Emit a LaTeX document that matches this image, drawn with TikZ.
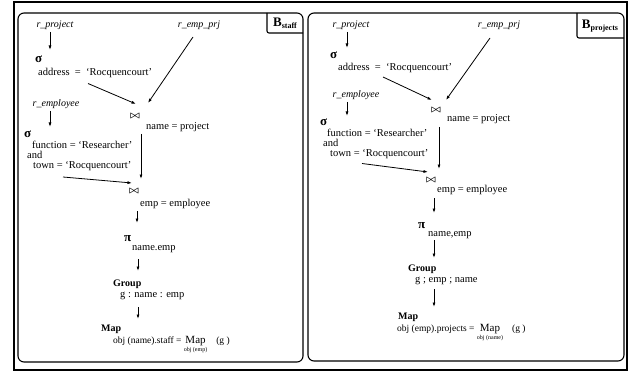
\documentclass[tikz,border=0pt]{standalone}
\usepackage{fontspec}
\setmainfont{Liberation Serif}
\usetikzlibrary{arrows.meta,calc}
\begin{document}
\begin{tikzpicture}[x=1pt,y=-1pt,
  txt/.style={inner sep=0pt, anchor=base west, font=\fontsize{10.5}{12}\selectfont},
  rel/.style={inner sep=0pt, anchor=center, font=\fontsize{10}{12}\selectfont\itshape},
  sym/.style={inner sep=0pt, anchor=base west, font=\fontsize{13}{14}\selectfont\bfseries},
  kw/.style={inner sep=0pt, anchor=base west, font=\fontsize{10}{12}\selectfont\bfseries},
  bowtienode/.style={inner sep=0pt, anchor=center, font=\boldmath},
  arr/.style={-{Latex[length=4.5pt,width=3pt]}, line width=0.8pt},
  frame/.style={line width=1.2pt},
  panel/.style={line width=1.1pt, rounded corners=6pt},
  tabline/.style={line width=1.1pt, rounded corners=2pt},
  tablabel/.style={inner sep=0pt, anchor=center, font=\bfseries}
]
\useasboundingbox (0,0) rectangle (629,377);

% outer frame and the two panels
\draw[frame] (14,2) rectangle (627,370);
\draw[panel] (18,13) rectangle (303,362);
\draw[panel] (308,13) rectangle (624,361);
\draw[tabline] (267,13) -- (267,33) -- (303,33);
\draw[tabline] (577,13) -- (577,38) -- (624,38);
\node[tablabel] (bstaff) at (285,23) {\fontsize{13}{14}\selectfont B\raisebox{-2pt}{\fontsize{8}{9}\selectfont staff}};
\node[tablabel] (bproj) at (600,26) {\fontsize{13}{14}\selectfont B\raisebox{-2pt}{\fontsize{8}{9}\selectfont projects}};

% ---------------- B_staff ----------------
\node[rel] (lrp) at (55,25) {r\_project};
\node[rel] (lrep) at (199,25) {r\_emp\_prj};
\node[sym] (lsig1) at (35,62.5) {σ};
\node[txt] (laddr) at (38,75.5) {address\ \ =\ \ `Rocquencourt'};
\node[bowtienode] (lj1) at (135,116) {$\bowtie$};
\node[txt] (lj1c) at (146,130) {name = project};
\node[rel] (lre) at (56,104) {r\_employee};
\node[sym] (lsig2) at (24,137.5) {σ};
\node[txt] (lf) at (32,148.5) {function = `Researcher'};
\node[txt] (land) at (27,158.5) {and};
\node[txt] (ltown) at (33,168.5) {town = `Rocquencourt'};
\node[bowtienode] (lj2) at (134,191) {$\bowtie$};
\node[txt] (lj2c) at (140,206.5) {emp = employee};
\node[sym] (lpi) at (124,241.5) {π};
\node[txt] (lpis) at (132,250) {name.emp};
\node[kw] (lgrp) at (113,286) {Group};
\node[txt] (lgc) at (120,297) {g : name : emp};
\node[kw] (lmap) at (101,331) {Map};
\node[txt, font=\fontsize{9.5}{11}\selectfont] (lmc) at (113,343.5)
  {obj (name).staff = $\mathop{\mbox{\fontsize{11}{12}\selectfont Map}}\limits_{\mbox{\fontsize{6}{7}\selectfont obj (emp)}}$\hspace{9pt}(g )};

\draw[arr] ($(lrp)+(-5,7)$) -- ($(laddr.base west)+(12,-25.5)$);
\draw[arr] ($(lrep)+(-6,12)$) -- ($(lj1)+(13,-13)$);
\draw[arr] ($(laddr.base west)+(50,8)$) -- ($(lj1)+(1,-12)$);
\draw[arr] ($(lre)+(-6,7)$) -- ($(lf.base west)+(18,-21.5)$);
\draw[arr] ($(lj1c.base west)+(-5,4)$) -- ($(lj2)+(7,-12)$);
\draw[arr] ($(ltown.base west)+(30,8.5)$) -- ($(lj2)+(-2,-8)$);
\draw[arr] ($(lj2c.base west)+(-3,4.5)$) -- ($(lpi.base west)+(13,-18.5)$);
\draw[arr] ($(lpis.base west)+(6,9)$) -- ($(lgrp.base west)+(25,-15)$);
\draw[arr] ($(lgc.base west)+(18,10)$) -- ($(lmap.base west)+(37,-12)$);

% ---------------- B_projects ----------------
\node[rel] (rrp) at (351,25) {r\_project};
\node[rel] (rrep) at (499,25) {r\_emp\_prj};
\node[sym] (rsig1) at (330,59) {σ};
\node[txt] (raddr) at (338,71) {address\ \ =\ \ `Rocquencourt'};
\node[bowtienode] (rj1) at (436,110) {$\bowtie$};
\node[txt] (rj1c) at (447,122) {name = project};
\node[rel] (rre) at (356,95) {r\_employee};
\node[sym] (rsig2) at (320,126) {σ};
\node[txt] (rf) at (327,137) {function = `Researcher'};
\node[txt] (rand) at (323,146.5) {and};
\node[txt] (rtown) at (330,156.5) {town = `Rocquencourt'};
\node[bowtienode] (rj2) at (431,180) {$\bowtie$};
\node[txt] (rj2c) at (437,192) {emp = employee};
\node[sym] (rpi) at (418,228) {π};
\node[txt] (rpis) at (428,236) {name,emp};
\node[kw] (rgrp) at (408,271) {Group};
\node[txt] (rgc) at (415,282) {g ; emp ; name};
\node[kw] (rmap) at (398,319) {Map};
\node[txt, font=\fontsize{9.5}{11}\selectfont] (rmc) at (397,331)
  {obj (emp).projects = $\mathop{\mbox{\fontsize{11}{12}\selectfont Map}}\limits_{\mbox{\fontsize{6}{7}\selectfont obj (name)}}$\hspace{9pt}(g )};

\draw[arr] ($(rrp)+(-4,7)$) -- ($(raddr.base west)+(9,-23)$);
\draw[arr] ($(rrep)+(-9,13)$) -- ($(rj1)+(10,-10)$);
\draw[arr] ($(raddr.base west)+(45,6)$) -- ($(rj1)+(-4,-10)$);
\draw[arr] ($(rre)+(-9,7)$) -- ($(rf.base west)+(20,-21)$);
\draw[arr] ($(rj1c.base west)+(-8,5)$) -- ($(rj2)+(8,-11)$);
\draw[arr] ($(rtown.base west)+(32,7)$) -- ($(rj2)+(-3,-8)$);
\draw[arr] ($(rj2c.base west)+(-3,6)$) -- ($(rpi.base west)+(16,-15)$);
\draw[arr] ($(rpis.base west)+(6,4)$) -- ($(rgrp.base west)+(26,-13)$);
\draw[arr] ($(rgc.base west)+(19,7)$) -- ($(rmap.base west)+(36,-12)$);
\end{tikzpicture}
\end{document}
